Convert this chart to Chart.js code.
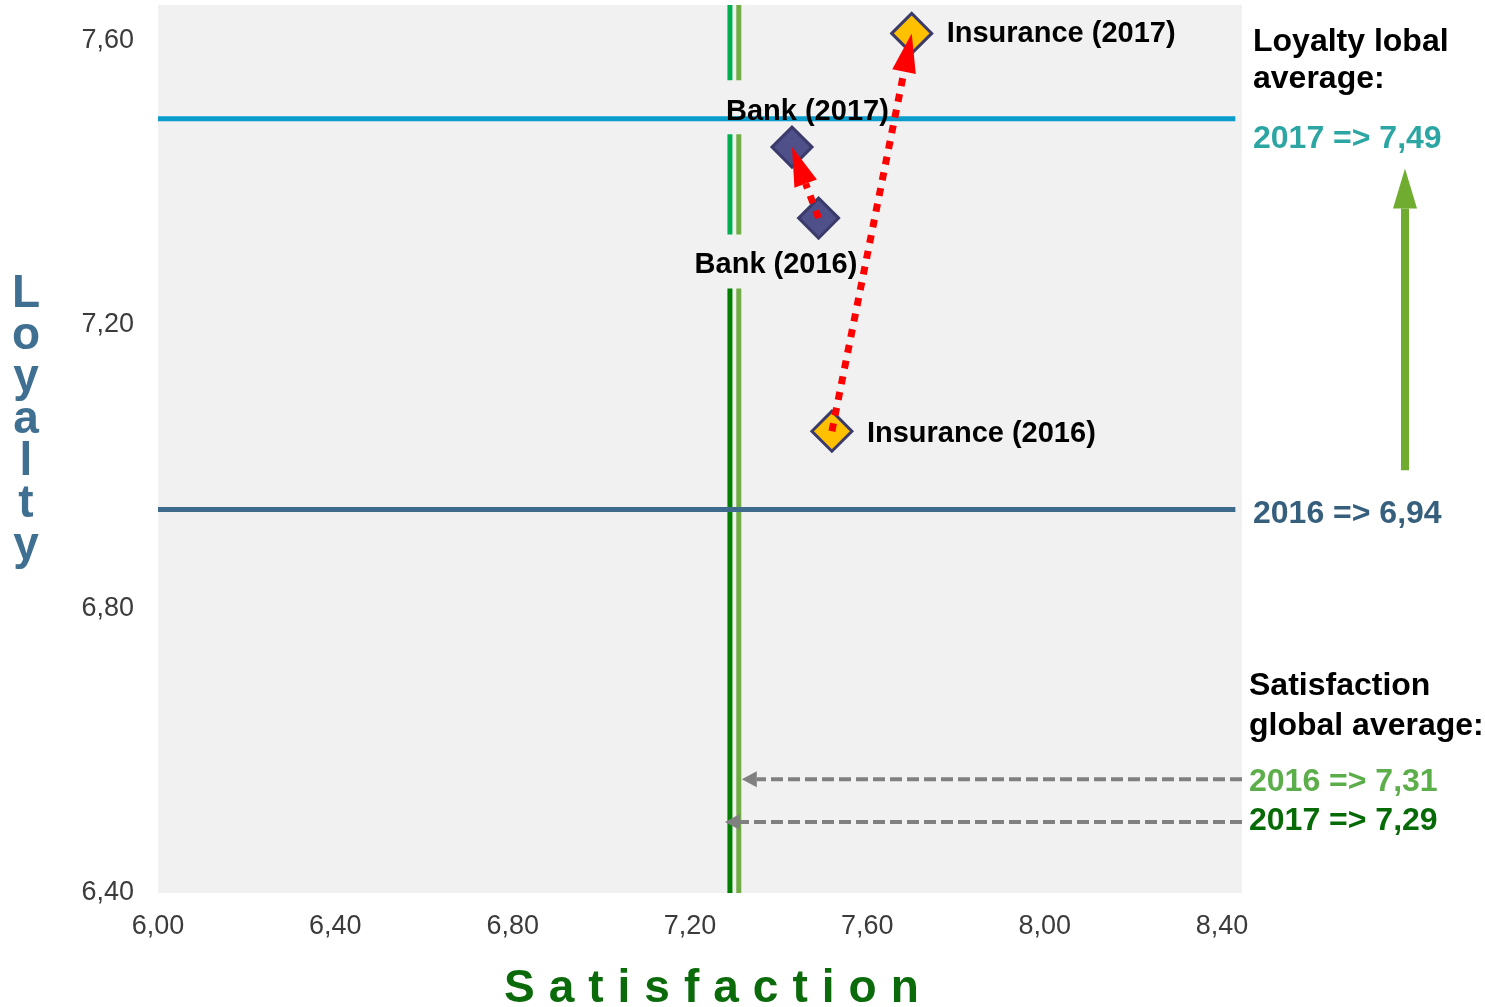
<!DOCTYPE html>
<html>
<head>
<meta charset="utf-8">
<title>Satisfaction vs Loyalty</title>
<script src="https://cdn.jsdelivr.net/npm/chart.js@4/dist/chart.umd.min.js"></script>
<style>
  html, body { margin: 0; padding: 0; background: #ffffff; }
  canvas { display: block; }
</style>
</head>
<body>
<canvas id="chart" width="1485" height="1007"></canvas>
<script>
// ---- data ----
const years = ['2016', '2017'];
const bankSatisfaction = [7.49, 7.43];
const bankLoyalty = [7.35, 7.45];
const insuranceSatisfaction = [7.52, 7.70];
const insuranceLoyalty = [7.05, 7.61];
const loyaltyAverage = [6.94, 7.49];       // 2016, 2017
const satisfactionAverage = [7.31, 7.29];  // 2016, 2017
const xTickValues = [6.00, 6.40, 6.80, 7.20, 7.60, 8.00, 8.40];
const yTickValues = [6.40, 6.80, 7.20, 7.60];

// ---- look & layout ----
const FONT = '"Liberation Sans", Arial, Helvetica, sans-serif';
const X_MIN = 6.00, X_MAX = 8.445, Y_MIN = 6.40, Y_MAX = 7.65;
const H_LINE_END = 8.43;
// breaks in the vertical average lines (where the point labels sit)
const V_BREAKS = [[7.544, 7.468], [7.327, 7.251]];

const fmt = v => Number(v).toFixed(2).replace('.', ',');
const toPoints = (xs, ys) => years.map((_, i) => ({ x: xs[i], y: ys[i] }));

function verticalLine(x) {
  const pts = [{ x, y: Y_MAX }];
  V_BREAKS.forEach(([a, b]) => {
    pts.push({ x, y: a }, { x, y: null }, { x, y: b });
  });
  pts.push({ x, y: Y_MIN });
  return pts;
}

function drawArrow(ctx, x0, y0, x1, y1, o) {
  const ang = Math.atan2(y1 - y0, x1 - x0);
  const bx = x1 - Math.cos(ang) * o.headLen;
  const by = y1 - Math.sin(ang) * o.headLen;
  ctx.save();
  ctx.strokeStyle = o.color;
  ctx.lineWidth = o.width;
  ctx.lineCap = 'butt';
  ctx.setLineDash(o.dash || []);
  ctx.beginPath();
  ctx.moveTo(x0, y0);
  ctx.lineTo(bx, by);
  ctx.stroke();
  ctx.setLineDash([]);
  ctx.fillStyle = o.color;
  ctx.beginPath();
  ctx.moveTo(x1, y1);
  ctx.lineTo(bx + Math.sin(ang) * o.headHalf, by - Math.cos(ang) * o.headHalf);
  ctx.lineTo(bx - Math.sin(ang) * o.headHalf, by + Math.cos(ang) * o.headHalf);
  ctx.closePath();
  ctx.fill();
  ctx.restore();
}

function text(ctx, str, x, y, font, color, align) {
  ctx.save();
  ctx.font = font;
  ctx.fillStyle = color;
  ctx.textAlign = align || 'left';
  ctx.textBaseline = 'alphabetic';
  ctx.fillText(str, x, y);
  ctx.restore();
}

// background: white page, light grey plotting area
const backgroundPlugin = {
  id: 'background',
  beforeDraw(chart) {
    const { ctx, chartArea: a } = chart;
    ctx.save();
    ctx.fillStyle = '#ffffff';
    ctx.fillRect(0, 0, chart.width, chart.height);
    ctx.fillStyle = '#f1f1f1';
    ctx.fillRect(a.left, a.top, a.right - a.left, a.bottom - a.top);
    ctx.restore();
  }
};

// arrows, point names, side notes and axis titles
const annotationPlugin = {
  id: 'annotations',
  afterDatasetsDraw(chart) {
    const { ctx, chartArea: a } = chart;
    const xs = chart.scales.x, ys = chart.scales.y;
    const px = v => xs.getPixelForValue(v);
    const py = v => ys.getPixelForValue(v);

    // grey dashed pointers from the side notes to the satisfaction averages
    const grey = { color: '#808080', width: 4, dash: [12, 5], headLen: 15, headHalf: 8 };
    drawArrow(ctx, a.right, py(6.56), px(satisfactionAverage[0]) + 3, py(6.56), grey);
    drawArrow(ctx, a.right, py(6.50), px(satisfactionAverage[1]) - 5, py(6.50), grey);

    // red dotted moves 2016 -> 2017
    const red = { color: '#ff0000', width: 7, dash: [8, 8], headLen: 39, headHalf: 12 };
    drawArrow(ctx, px(bankSatisfaction[0]), py(bankLoyalty[0]),
      px(bankSatisfaction[1]), py(bankLoyalty[1]), red);
    drawArrow(ctx, px(insuranceSatisfaction[0]), py(insuranceLoyalty[0]),
      px(insuranceSatisfaction[1]), py(insuranceLoyalty[1]), red);

    // point names
    const pf = 'bold 29px ' + FONT;
    const bx = i => px(bankSatisfaction[i]), by = i => py(bankLoyalty[i]);
    const ix = i => px(insuranceSatisfaction[i]), iy = i => py(insuranceLoyalty[i]);
    text(ctx, 'Bank (2017)', bx(1) - 66, by(1) - 27, pf, '#000000');
    text(ctx, 'Bank (2016)', bx(0) - 124, by(0) + 55, pf, '#000000');
    text(ctx, 'Insurance (2017)', ix(1) + 35, iy(1) + 9, pf, '#000000');
    text(ctx, 'Insurance (2016)', ix(0) + 35, iy(0) + 11, pf, '#000000');

    // green upward arrow for the loyalty increase
    drawArrow(ctx, a.right + 163, py(6.995), a.right + 163, py(7.42),
      { color: '#6fac2f', width: 8, headLen: 40, headHalf: 12 });

    // side notes
    const sf = 'bold 32px ' + FONT;
    const lx = a.right + 11, sx = a.right + 7;
    text(ctx, 'Loyalty lobal', lx, 51, sf, '#000000');
    text(ctx, 'average:', lx, 88, sf, '#000000');
    text(ctx, '2017 => ' + fmt(loyaltyAverage[1]), lx, 148, sf, '#2ca6a3');
    text(ctx, '2016 => ' + fmt(loyaltyAverage[0]), lx, 523, sf, '#355f7c');
    text(ctx, 'Satisfaction', sx, 695, sf, '#000000');
    text(ctx, 'global average:', sx, 735, sf, '#000000');
    text(ctx, '2016 => ' + fmt(satisfactionAverage[0]), sx, 791, sf, '#5cae4a');
    text(ctx, '2017 => ' + fmt(satisfactionAverage[1]), sx, 830, sf, '#066b06');
  },
  afterDraw(chart) {
    const { ctx } = chart;
    // vertical axis title, one letter per line
    const letters = 'Loyalty'.split('');
    ctx.save();
    ctx.font = 'bold 46px ' + FONT;
    ctx.fillStyle = '#3f6f91';
    ctx.textAlign = 'center';
    ctx.textBaseline = 'alphabetic';
    letters.forEach((ch, i) => ctx.fillText(ch, 26, 307 + i * 42));
    ctx.restore();

    // horizontal axis title, letter spaced
    ctx.save();
    ctx.font = 'bold 46px ' + FONT;
    ctx.fillStyle = '#0b6b0b';
    ctx.textAlign = 'left';
    ctx.textBaseline = 'alphabetic';
    ctx.letterSpacing = '14px';
    ctx.fillText('Satisfaction', 504, 1002);
    ctx.restore();
  }
};

const tickFont = { family: FONT, size: 27 };
const noEdgePadding = s => {
  s.paddingTop = 0; s.paddingBottom = 0; s.paddingLeft = 0; s.paddingRight = 0;
};

new Chart(document.getElementById('chart'), {
  type: 'scatter',
  data: {
    datasets: [
      {
        label: 'Bank',
        data: toPoints(bankSatisfaction, bankLoyalty),
        pointStyle: 'rectRot',
        pointRadius: 20,
        backgroundColor: '#4f4f8a',
        borderColor: '#3b3b6b',
        borderWidth: 3,
        order: 0
      },
      {
        label: 'Insurance',
        data: toPoints(insuranceSatisfaction, insuranceLoyalty),
        pointStyle: 'rectRot',
        pointRadius: 20,
        backgroundColor: '#ffc000',
        borderColor: '#3b3b6b',
        borderWidth: 3,
        order: 1
      },
      {
        label: 'Loyalty average 2017',
        data: [{ x: X_MIN, y: loyaltyAverage[1] }, { x: H_LINE_END, y: loyaltyAverage[1] }],
        showLine: true, pointRadius: 0, borderColor: '#0a9dcc', borderWidth: 5, order: 2
      },
      {
        label: 'Loyalty average 2016',
        data: [{ x: X_MIN, y: loyaltyAverage[0] }, { x: H_LINE_END, y: loyaltyAverage[0] }],
        showLine: true, pointRadius: 0, borderColor: '#3e6b8c', borderWidth: 5, order: 3
      },
      {
        label: 'Satisfaction average 2016',
        data: verticalLine(satisfactionAverage[0]),
        showLine: true, spanGaps: false, pointRadius: 0, borderColor: '#70ad47', borderWidth: 5, order: 4
      },
      {
        label: 'Satisfaction average 2017',
        data: verticalLine(satisfactionAverage[1]),
        showLine: true, spanGaps: false, pointRadius: 0, borderColor: '#008000', borderWidth: 5, order: 5,
        segment: {
          borderColor: c => (c.p1.parsed.y > V_BREAKS[1][1] + 0.01 ? '#00b050' : '#008000')
        }
      }
    ]
  },
  options: {
    responsive: false,
    devicePixelRatio: 1,
    animation: false,
    events: [],
    layout: { autoPadding: false, padding: { top: 5, right: 243, left: 0, bottom: 0 } },
    plugins: { legend: { display: false }, tooltip: { enabled: false } },
    scales: {
      x: {
        type: 'linear',
        min: X_MIN,
        max: X_MAX,
        afterBuildTicks: s => { s.ticks = xTickValues.map(v => ({ value: v })); },
        afterFit: s => { s.height = 114; noEdgePadding(s); },
        grid: { display: false, drawTicks: false },
        border: { display: false },
        ticks: {
          callback: v => fmt(v),
          font: tickFont,
          color: '#3b3b3b',
          padding: 17,
          maxRotation: 0,
          autoSkip: false
        }
      },
      y: {
        type: 'linear',
        min: Y_MIN,
        max: Y_MAX,
        afterBuildTicks: s => { s.ticks = yTickValues.map(v => ({ value: v })); },
        afterFit: s => { s.width = 158; noEdgePadding(s); },
        grid: { display: false, drawTicks: false },
        border: { display: false },
        ticks: {
          callback: v => fmt(v),
          font: tickFont,
          color: '#3b3b3b',
          padding: 24,
          autoSkip: false
        }
      }
    }
  },
  plugins: [backgroundPlugin, annotationPlugin]
});
</script>
</body>
</html>
